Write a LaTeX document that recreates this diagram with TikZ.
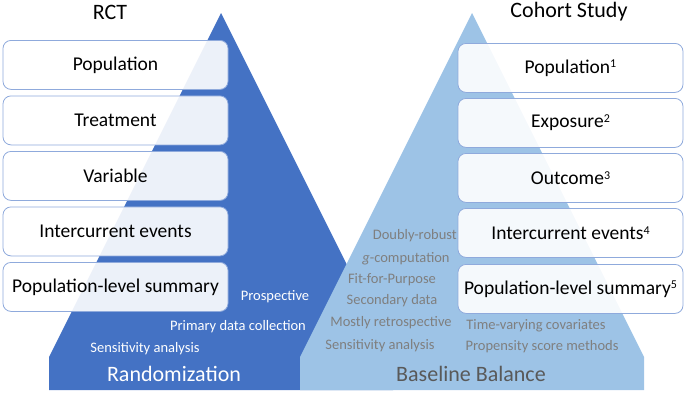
\documentclass[tikz,border=0pt]{standalone}
\usepackage{fontspec}
\setmainfont{Carlito}
\definecolor{darkblue}{HTML}{4472C4}
\definecolor{lightblue}{HTML}{9DC3E6}
\definecolor{boxline}{HTML}{8FAADC}
\definecolor{graytext}{HTML}{7F7F7F}
\definecolor{deepgray}{HTML}{595959}
\newcommand{\supnum}[1]{\raisebox{0.27em}{\fontsize{12}{12}\selectfont #1}}
\begin{document}
\begin{tikzpicture}[x=1pt,y=-1pt,
  boxstyle/.style={draw=boxline, line width=0.8pt, rounded corners=8pt,
    fill=white, fill opacity=0.9, text opacity=1,
    minimum width=225pt, minimum height=49pt, anchor=north, inner sep=0pt,
    font=\fontsize{19.5}{22}\selectfont},
  titlestyle/.style={font=\fontsize{22}{24}\selectfont, inner sep=0pt},
  whitesmall/.style={text=white, font=\fontsize{14.5}{16}\selectfont, inner sep=0pt},
  graysmall/.style={text=graytext, font=\fontsize{14.5}{16}\selectfont, inner sep=0pt},
  bigwhite/.style={text=white, font=\fontsize{22}{24}\selectfont, inner sep=0pt},
  biggray/.style={text=deepgray, font=\fontsize{22}{24}\selectfont, inner sep=0pt}]
\useasboundingbox (0,0) rectangle (685,400);
% pyramids
\fill[darkblue] (221,13) -- (393,357) -- (393,390) -- (49,390) -- (49,357) -- cycle;
\fill[lightblue] (472,13) -- (644,357) -- (644,390) -- (300,390) -- (300,357) -- cycle;
% titles
\node[titlestyle] (rct) at (110,12) {RCT};
\node[titlestyle] (cohort) at (569,12) {Cohort Study};
% left boxes
\node[boxstyle] (l1) at (115.5,40) {Population};
\node[boxstyle] (l2) at (115.5,95.5) {Treatment};
\node[boxstyle] (l3) at (115.5,151) {Variable};
\node[boxstyle] (l4) at (115.5,206.5) {Intercurrent events};
\node[boxstyle] (l5) at (115.5,262) {Population-level summary};
% right boxes
\node[boxstyle] (r1) at (570.5,43) {Population\supnum{1}};
\node[boxstyle] (r2) at (570.5,98) {Exposure\supnum{2}};
\node[boxstyle] (r3) at (570.5,153) {Outcome\supnum{3}};
\node[boxstyle] (r4) at (570.5,208) {Intercurrent events\supnum{4}};
\node[boxstyle] (r5) at (570.5,264) {Population-level summary\supnum{5}};
% left small texts
\node[whitesmall] (t1) at (275,297) {Prospective};
\node[whitesmall] (t2) at (238,327) {Primary data collection};
\node[whitesmall] (t3) at (145,349) {Sensitivity analysis};
\node[bigwhite] (rand) at (174,374) {Randomization};
% right small texts
\node[graysmall, anchor=east] (g1) at (457,236) {Doubly-robust};
\node[graysmall] (g2) at (406,259) {\textit{g}-computation};
\node[graysmall] (g3) at (392,280) {Fit-for-Purpose};
\node[graysmall] (g4) at (392,301) {Secondary data};
\node[graysmall] (g5) at (391,323) {Mostly retrospective};
\node[graysmall] (g6) at (380,346) {Sensitivity analysis};
\node[graysmall] (g7) at (536,326) {Time-varying covariates};
\node[graysmall] (g8) at (542,347) {Propensity score methods};
\node[biggray] (base) at (471,374) {Baseline Balance};
\end{tikzpicture}
\end{document}
